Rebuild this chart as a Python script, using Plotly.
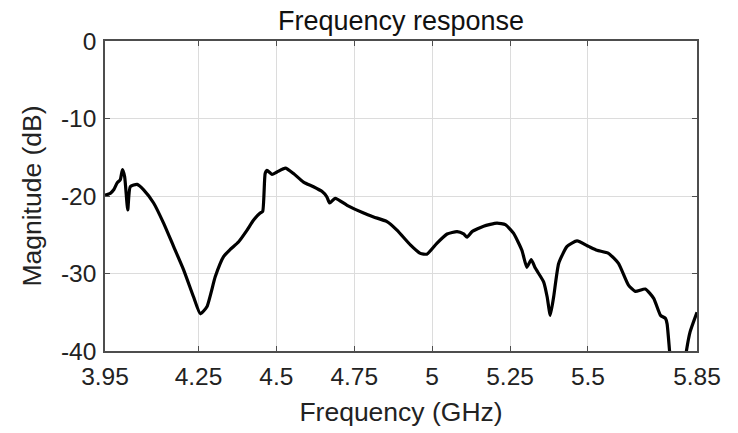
import plotly.graph_objects as go

freq_ghz = [3.950, 3.967, 3.978, 3.989, 3.999, 4.006, 4.013, 4.023, 4.031, 4.053,
            4.074, 4.106, 4.138, 4.170, 4.202, 4.234, 4.256, 4.277, 4.304, 4.331,
            4.352, 4.379, 4.406, 4.427, 4.448, 4.456, 4.464, 4.470, 4.486, 4.502,
            4.529, 4.555, 4.587, 4.619, 4.646, 4.662, 4.671, 4.689, 4.727, 4.780,
            4.812, 4.855, 4.887, 4.930, 4.962, 4.983, 5.015, 5.048, 5.080, 5.101,
            5.112, 5.128, 5.165, 5.208, 5.235, 5.261, 5.288, 5.304, 5.318, 5.331,
            5.358, 5.369, 5.379, 5.390, 5.406, 5.433, 5.465, 5.502, 5.529, 5.566,
            5.598, 5.630, 5.652, 5.684, 5.711, 5.733, 5.749, 5.754, 5.762, 5.771,
            5.803, 5.816, 5.828, 5.850]
magnitude_db = [-19.9, -19.65, -19.2, -18.3, -17.9, -16.6, -17.5, -21.8, -18.8, -18.5,
                -19.2, -20.9, -23.5, -26.5, -29.5, -33.0, -35.2, -34.3, -30.4, -27.8,
                -26.9, -25.9, -24.4, -23.1, -22.2, -22.0, -17.1, -16.7, -17.2, -16.9,
                -16.4, -17.1, -18.2, -18.8, -19.4, -20.1, -20.9, -20.3, -21.2, -22.2,
                -22.7, -23.3, -24.4, -26.3, -27.4, -27.5, -26.1, -24.9, -24.6, -24.9,
                -25.3, -24.6, -23.9, -23.5, -23.7, -24.8, -27.0, -29.2, -28.2, -29.3,
                -31.1, -33.0, -35.4, -33.0, -28.7, -26.5, -25.8, -26.5, -27.0, -27.4,
                -28.7, -31.5, -32.3, -32.0, -33.2, -35.4, -35.8, -36.5, -40.0, -44.0,
                -44.0, -40.0, -37.5, -35.0]

x_tickvals = [3.95, 4.25, 4.5, 4.75, 5, 5.25, 5.5, 5.85]
x_ticktext = ["3.95", "4.25", "4.5", "4.75", "5", "5.25", "5.5", "5.85"]
y_tickvals = [0, -10, -20, -30, -40]
y_ticktext = ["0", "-10", "-20", "-30", "-40"]

font_family = "Liberation Sans, Arial, sans-serif"

fig = go.Figure()
fig.add_trace(go.Scatter(
    x=freq_ghz, y=magnitude_db, mode="lines",
    line=dict(color="black", width=3.2, shape="spline", smoothing=0.5),
    showlegend=False, hoverinfo="skip",
))

axis_common = dict(
    showline=True, linecolor="#4d4d4d", linewidth=1.5, mirror="ticks",
    ticks="inside", ticklen=5, tickwidth=1.2, tickcolor="#4d4d4d",
    showgrid=True, gridcolor="#dcdcdc", gridwidth=1,
    zeroline=False, automargin=False,
    tickfont=dict(family=font_family, size=24.5, color="#222"),
)

fig.update_layout(
    width=738, height=433,
    margin=dict(l=105, r=41, t=41, b=82, autoexpand=False),
    paper_bgcolor="white", plot_bgcolor="white",
    title=dict(text="Frequency response", xref="paper", x=0.5, xanchor="center",
               yref="container", y=0.975, yanchor="top", automargin=False,
               font=dict(family=font_family, size=27, color="#111")),
    xaxis=dict(range=[3.95, 5.85], tickvals=x_tickvals, ticktext=x_ticktext,
               title=dict(text="Frequency (GHz)", standoff=13,
                          font=dict(family=font_family, size=26.5, color="#222")),
               ticklabelstandoff=3,
               **axis_common),
    yaxis=dict(range=[-40, 0], tickvals=y_tickvals, ticktext=y_ticktext,
               title=dict(text="Magnitude (dB)", standoff=12,
                          font=dict(family=font_family, size=26.5, color="#222")),
               ticklabelstandoff=2,
               **axis_common),
)

fig.write_html("out.html",
               config={"displayModeBar": False},
               post_script="document.body.style.margin='0';document.body.style.padding='0';")
